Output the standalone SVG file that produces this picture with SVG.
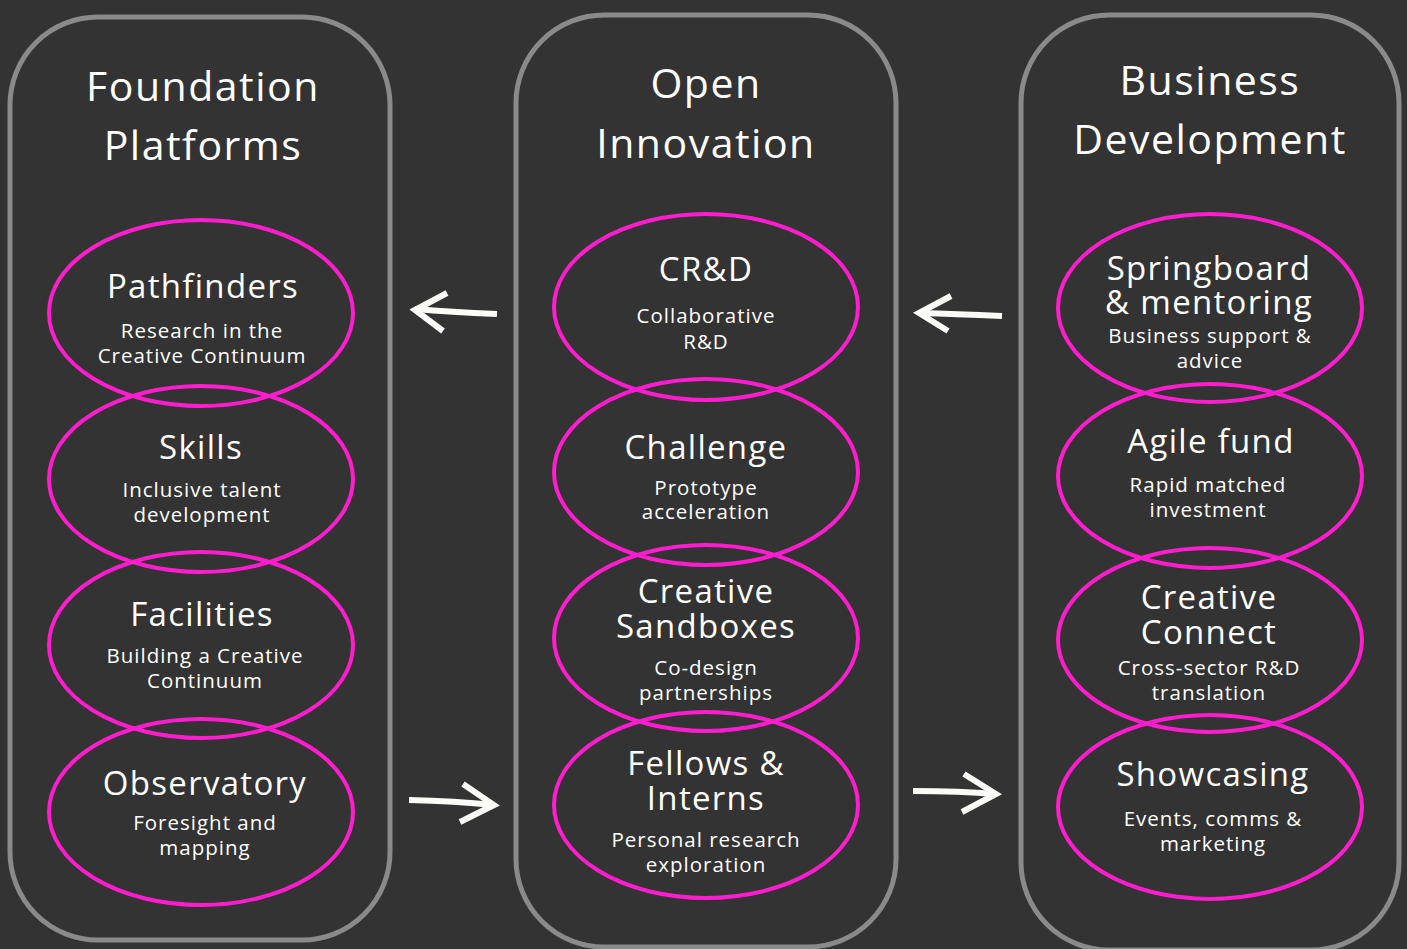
<svg xmlns="http://www.w3.org/2000/svg" width="1407" height="949" viewBox="0 0 1407 949">
  <style>
    .col { fill: #333333; stroke: #8a8a8a; stroke-width: 5; }
    .ring { fill: none; stroke: #ff1dce; stroke-width: 4; }
    .txt { font-family: "Open Sans", "Noto Sans", sans-serif; fill: #ffffff; text-anchor: middle; }
    .head { font-size: 41px; letter-spacing: 1.5px; }
    .name { font-size: 33px; letter-spacing: 1.3px; }
    .sub { font-size: 20.5px; letter-spacing: 1px; }
    .arrow { fill: none; stroke: #fbfbf8; stroke-width: 6; stroke-linecap: butt; stroke-linejoin: miter; }
  </style>

  <rect width="1407" height="949" fill="#333333"/>

  <!-- column panels -->
  <g id="col-foundation">
    <rect class="col" x="10" y="17" width="380" height="923" rx="88"/>
    <text class="txt head" x="203" y="101">Foundation</text>
    <text class="txt head" x="203" y="160">Platforms</text>
  </g>
  <g id="col-open">
    <rect class="col" x="516" y="15" width="380" height="932" rx="88"/>
    <text class="txt head" x="706" y="98">Open</text>
    <text class="txt head" x="706" y="158">Innovation</text>
  </g>
  <g id="col-business">
    <rect class="col" x="1021" y="15" width="378" height="935" rx="88"/>
    <text class="txt head" x="1210" y="95">Business</text>
    <text class="txt head" x="1210" y="154">Development</text>
  </g>

  <!-- Foundation Platforms -->
  <g id="pathfinders">
    <ellipse class="ring" cx="201" cy="313" rx="152" ry="93"/>
    <text class="txt name" x="203" y="298">Pathfinders</text>
    <text class="txt sub" x="202" y="338">Research in the</text>
    <text class="txt sub" x="202" y="363">Creative Continuum</text>
  </g>
  <g id="skills">
    <ellipse class="ring" cx="201" cy="479" rx="152" ry="93"/>
    <text class="txt name" x="201" y="459">Skills</text>
    <text class="txt sub" x="202" y="497">Inclusive talent</text>
    <text class="txt sub" x="202" y="522">development</text>
  </g>
  <g id="facilities">
    <ellipse class="ring" cx="201" cy="645" rx="152" ry="93"/>
    <text class="txt name" x="202" y="626">Facilities</text>
    <text class="txt sub" x="205" y="663">Building a Creative</text>
    <text class="txt sub" x="205" y="688">Continuum</text>
  </g>
  <g id="observatory">
    <ellipse class="ring" cx="201" cy="812" rx="152" ry="93"/>
    <text class="txt name" x="205" y="795">Observatory</text>
    <text class="txt sub" x="205" y="830">Foresight and</text>
    <text class="txt sub" x="205" y="855">mapping</text>
  </g>

  <!-- Open Innovation -->
  <g id="crd">
    <ellipse class="ring" cx="706" cy="307" rx="152" ry="93"/>
    <text class="txt name" x="706" y="281">CR&amp;D</text>
    <text class="txt sub" x="706" y="323">Collaborative</text>
    <text class="txt sub" x="706" y="349">R&amp;D</text>
  </g>
  <g id="challenge">
    <ellipse class="ring" cx="706" cy="472" rx="152" ry="93"/>
    <text class="txt name" x="706" y="459">Challenge</text>
    <text class="txt sub" x="706" y="495">Prototype</text>
    <text class="txt sub" x="706" y="519">acceleration</text>
  </g>
  <g id="sandboxes">
    <ellipse class="ring" cx="706" cy="638" rx="152" ry="93"/>
    <text class="txt name" x="706" y="603">Creative</text>
    <text class="txt name" x="706" y="638">Sandboxes</text>
    <text class="txt sub" x="706" y="675">Co-design</text>
    <text class="txt sub" x="706" y="700">partnerships</text>
  </g>
  <g id="fellows">
    <ellipse class="ring" cx="706" cy="805" rx="152" ry="93"/>
    <text class="txt name" x="706" y="775">Fellows &amp;</text>
    <text class="txt name" x="706" y="810">Interns</text>
    <text class="txt sub" x="706" y="847">Personal research</text>
    <text class="txt sub" x="706" y="872">exploration</text>
  </g>

  <!-- Business Development -->
  <g id="springboard">
    <ellipse class="ring" cx="1210" cy="308" rx="152" ry="94"/>
    <text class="txt name" x="1209" y="280">Springboard</text>
    <text class="txt name" x="1209" y="314">&amp; mentoring</text>
    <text class="txt sub" x="1210" y="343">Business support &amp;</text>
    <text class="txt sub" x="1210" y="368">advice</text>
  </g>
  <g id="agile">
    <ellipse class="ring" cx="1210" cy="476" rx="152" ry="92"/>
    <text class="txt name" x="1211" y="453">Agile fund</text>
    <text class="txt sub" x="1208" y="492">Rapid matched</text>
    <text class="txt sub" x="1208" y="517">investment</text>
  </g>
  <g id="connect">
    <ellipse class="ring" cx="1210" cy="640" rx="152" ry="92"/>
    <text class="txt name" x="1209" y="609">Creative</text>
    <text class="txt name" x="1209" y="644">Connect</text>
    <text class="txt sub" x="1209" y="675">Cross-sector R&amp;D</text>
    <text class="txt sub" x="1209" y="700">translation</text>
  </g>
  <g id="showcasing">
    <ellipse class="ring" cx="1210" cy="807" rx="152" ry="92"/>
    <text class="txt name" x="1213" y="786">Showcasing</text>
    <text class="txt sub" x="1213" y="826">Events, comms &amp;</text>
    <text class="txt sub" x="1213" y="851">marketing</text>
  </g>

  <!-- hand-drawn flow arrows between columns -->
  <g id="connectors">
    <path class="arrow" d="M497 314 Q450 312 415 309"/>
    <path class="arrow" d="M447 293 L415 310 L443 331"/>
    <path class="arrow" d="M409 800 Q455 801 494 805"/>
    <path class="arrow" d="M463 784 L494 805 L460 822"/>
    <path class="arrow" d="M1002 316 Q955 314 919 313"/>
    <path class="arrow" d="M951 296 L919 313 L948 331"/>
    <path class="arrow" d="M913 791 Q960 791 996 794"/>
    <path class="arrow" d="M964 774 L996 794 L962 812"/>
  </g>
</svg>
